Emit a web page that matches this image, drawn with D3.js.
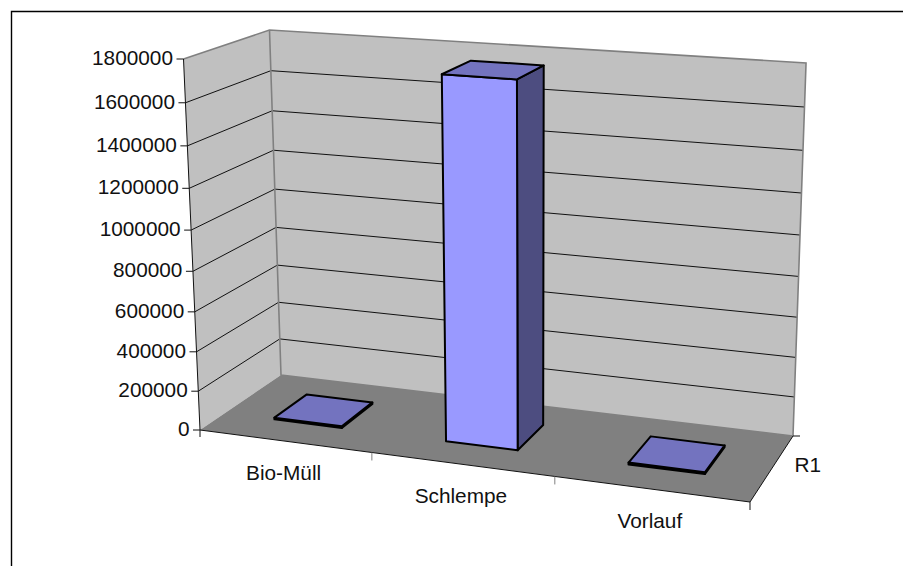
<!DOCTYPE html>
<html>
<head>
<meta charset="utf-8">
<style>
html, body { margin: 0; padding: 0; background: #fff; }
svg { display: block; }
text { font-family: "Liberation Sans", Arial, sans-serif; font-size: 20.8px; fill: #111; }
</style>
<script src="https://cdn.jsdelivr.net/npm/d3@7/dist/d3.min.js"></script>
</head>
<body>
<svg id="chart" width="903" height="566"></svg>
<script>
// Data
const categories = ["Bio-Müll", "Schlempe", "Vorlauf"];
const seriesNames = ["R1"];
const seriesValues = [9000, 1760000, 9000];
const valueTicks = [0, 200000, 400000, 600000, 800000, 1000000, 1200000, 1400000, 1600000, 1800000];

// Box corners of the 3D plot on screen
const floorCorners = { fl: [200, 430], fr: [750, 502], br: [793, 436], bl: [281, 375] };
const ceilCorners = { fl: [183.5, 59], fr: [762, 100], br: [806, 63], bl: [270, 30] };
// Foreshortening of the height axis and the point the verticals converge to
const heightPerspective = 1.07;
const verticalVanish = [532, 7900];

// Homography taking the unit square onto a quadrilateral
function quadMap(q) {
  const [x0, y0] = q.fl, [x1, y1] = q.fr, [x2, y2] = q.br, [x3, y3] = q.bl;
  const dx1 = x1 - x2, dx2 = x3 - x2, sx = x0 - x1 + x2 - x3;
  const dy1 = y1 - y2, dy2 = y3 - y2, sy = y0 - y1 + y2 - y3;
  const det = dx1 * dy2 - dx2 * dy1;
  const g = (sx * dy2 - dx2 * sy) / det;
  const h = (dx1 * sy - sx * dy1) / det;
  const a = x1 - x0 + g * x1, b = x3 - x0 + h * x3, c = x0;
  const d = y1 - y0 + g * y1, e = y3 - y0 + h * y3, f = y0;
  return (u, v) => {
    const w = g * u + h * v + 1;
    return [(a * u + b * v + c) / w, (d * u + e * v + f) / w];
  };
}
const floorAt = quadMap(floorCorners);
const ceilAt = quadMap(ceilCorners);

const yScale = d3.scaleLinear().domain([0, 1800000]).range([0, 1]);
const xBand = d3.scaleBand().domain(categories).range([0, 1]).paddingInner(0.6).paddingOuter(0.3);
const zBand = d3.scaleBand().domain(seriesNames).range([0, 1]).paddingInner(0).paddingOuter(0.7);

// u: along categories, v: into the depth, t: height fraction.
// Height comes from the ceiling plane; x follows the line to the vertical vanishing point.
function project(u, v, t) {
  const a = floorAt(u, v), b = ceilAt(u, v);
  const s = t / (heightPerspective - (heightPerspective - 1) * t);
  const y = a[1] + (b[1] - a[1]) * s;
  const x = verticalVanish[0] + (a[0] - verticalVanish[0]) * (verticalVanish[1] - y) / (verticalVanish[1] - a[1]);
  return [x, y];
}
const pathOf = pts => d3.line()(pts) + "Z";

const svg = d3.select("#chart");

// Outer frame, open towards the right and bottom
svg.append("path").attr("d", "M11.5,566V11.5H903")
  .attr("fill", "none").attr("stroke", "#000").attr("stroke-width", 1.4);

// Walls and floor
svg.append("path").attr("d", pathOf([project(0,0,0), project(0,0,1), project(0,1,1), project(0,1,0)]))
  .attr("fill", "#c0c0c0");
svg.append("path").attr("d", pathOf([project(0,1,0), project(0,1,1), project(1,1,1), project(1,1,0)]))
  .attr("fill", "#c0c0c0");
svg.append("path").attr("d", pathOf([project(0,0,0), project(1,0,0), project(1,1,0), project(0,1,0)]))
  .attr("fill", "#808080");

// Gridlines across both walls
const grid = svg.append("g").attr("fill", "none").attr("stroke", "#111").attr("stroke-width", 1);
valueTicks.slice(1, -1).forEach(tick => {
  const t = yScale(tick);
  grid.append("path").attr("d", d3.line()([project(0,0,t), project(0,1,t), project(1,1,t)]));
});

// Grey wall edges
svg.append("path")
  .attr("d", d3.line()([project(0,0,1), project(0,1,1), project(1,1,1), project(1,1,0)]))
  .attr("fill", "none").attr("stroke", "#808080").attr("stroke-width", 1.6);
svg.append("path")
  .attr("d", d3.line()([project(0,1,1), project(0,1,0), project(1,1,0)]))
  .attr("fill", "none").attr("stroke", "#808080").attr("stroke-width", 1.6);

// Axis lines with tick marks
const axes = svg.append("g").attr("fill", "none").attr("stroke", "#111").attr("stroke-width", 1);
axes.append("path").attr("d", d3.line()([project(0,0,1), project(0,0,0), project(1,0,0), project(1,1,0)]));
axes.append("path").attr("d", d3.line()([project(0,0,0), [project(0,0,0)[0], project(0,0,0)[1] + 7]]));
valueTicks.forEach(tick => {
  const p = project(0, 0, yScale(tick));
  axes.append("path").attr("d", d3.line()([p, [p[0] - 7, p[1]]]));
  svg.append("text").attr("x", p[0] - 10.5).attr("y", p[1] + 6).attr("text-anchor", "end").text(tick);
});
categories.forEach((name, i) => {
  const u = (i + 1) / categories.length;
  const p = project(u, 0, 0);
  axes.append("path").attr("d", d3.line()([p, [p[0], p[1] + 8]]))
    .attr("stroke", i < categories.length - 1 ? "#808080" : "#111");
  const c = project((i + 0.5) / categories.length, 0, 0);
  svg.append("text").attr("x", c[0] - 1).attr("y", c[1] + 39).attr("text-anchor", "middle").text(name);
});
const rp = project(1, 1, 0);
axes.append("path").attr("d", d3.line()([rp, [rp[0] + 7, rp[1]]]));
const rm = project(1, 0.5, 0);
svg.append("text").attr("x", rm[0] + 22).attr("y", rm[1] + 4).text(seriesNames[0]);

// Bars: back faces are hidden, so top and the two visible sides are enough
categories.forEach((name, i) => {
  const u0 = xBand(name), u1 = u0 + xBand.bandwidth();
  const v0 = zBand("R1"), v1 = v0 + zBand.bandwidth();
  const t = yScale(seriesValues[i]);
  const g = svg.append("g").attr("stroke", "#000").attr("stroke-width", 2).attr("stroke-linejoin", "round");
  g.append("path").attr("fill", "#4d4d80")
    .attr("d", pathOf([project(u1,v0,0), project(u1,v1,0), project(u1,v1,t), project(u1,v0,t)]));
  g.append("path").attr("fill", "#9999ff")
    .attr("d", pathOf([project(u0,v0,0), project(u1,v0,0), project(u1,v0,t), project(u0,v0,t)]));
  g.append("path").attr("fill", "#7373bf")
    .attr("d", pathOf([project(u0,v0,t), project(u1,v0,t), project(u1,v1,t), project(u0,v1,t)]));
});
</script>
</body>
</html>
